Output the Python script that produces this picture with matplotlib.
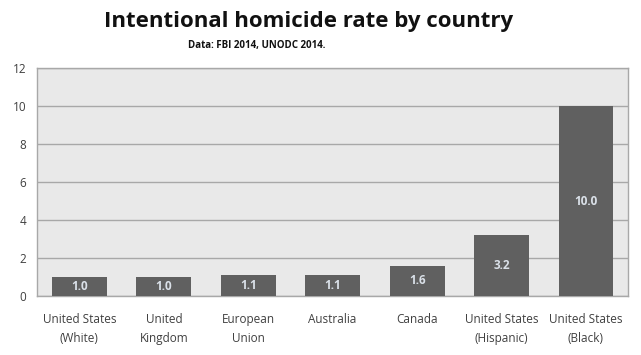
import matplotlib
matplotlib.use("Agg")
import matplotlib.pyplot as plt

categories = ["United States\n(White)", "United\nKingdom", "European\nUnion", "Australia",
              "Canada", "United States\n(Hispanic)", "United States\n(Black)"]
values = [1.0, 1.0, 1.1, 1.1, 1.6, 3.2, 10.0]
yticks = [0, 2, 4, 6, 8, 10, 12]

plt.rcParams['font.family'] = ['Open Sans', 'DejaVu Sans']

fig = plt.figure(figsize=(6.41, 3.55), dpi=100)
ax = fig.add_axes([0.058, 0.166, 0.922, 0.642])
ax.set_facecolor('#e9e9e9')
x = range(len(values))
bars = ax.bar(x, values, width=0.65, color='#606060', zorder=3)
for xi, v in zip(x, values):
    ax.text(xi, v / 2, f"{v:.1f}", ha='center', va='center', color='#dae0e8',
            fontsize=8.5, fontweight='bold', zorder=4)
ax.set_ylim(0, 12)
ax.set_xlim(-0.5, len(values) - 0.5)
ax.set_yticks(yticks)
ax.set_xticks(list(x))
ax.set_xticklabels(categories, fontsize=8.5, color='#404040', linespacing=1.6)
ax.tick_params(axis='y', labelsize=8.5, labelcolor='#404040', length=0, pad=8)
ax.tick_params(axis='x', length=0, pad=12)
ax.yaxis.grid(True, color='#a8a8a8', linewidth=1.0, zorder=1)
ax.set_axisbelow(True)
for s in ax.spines.values():
    s.set_color('#a8a8a8')
    s.set_linewidth(1.0)

fig.text(0.482, 0.94, "Intentional homicide rate by country", ha='center', va='center',
         fontsize=16, fontweight='bold', color='#111111')
fig.text(0.40, 0.872, "Data: FBI 2014, UNODC 2014.", ha='center', va='center',
         fontsize=7, fontweight='bold', color='#111111')

fig.savefig("out.png", dpi=100)
